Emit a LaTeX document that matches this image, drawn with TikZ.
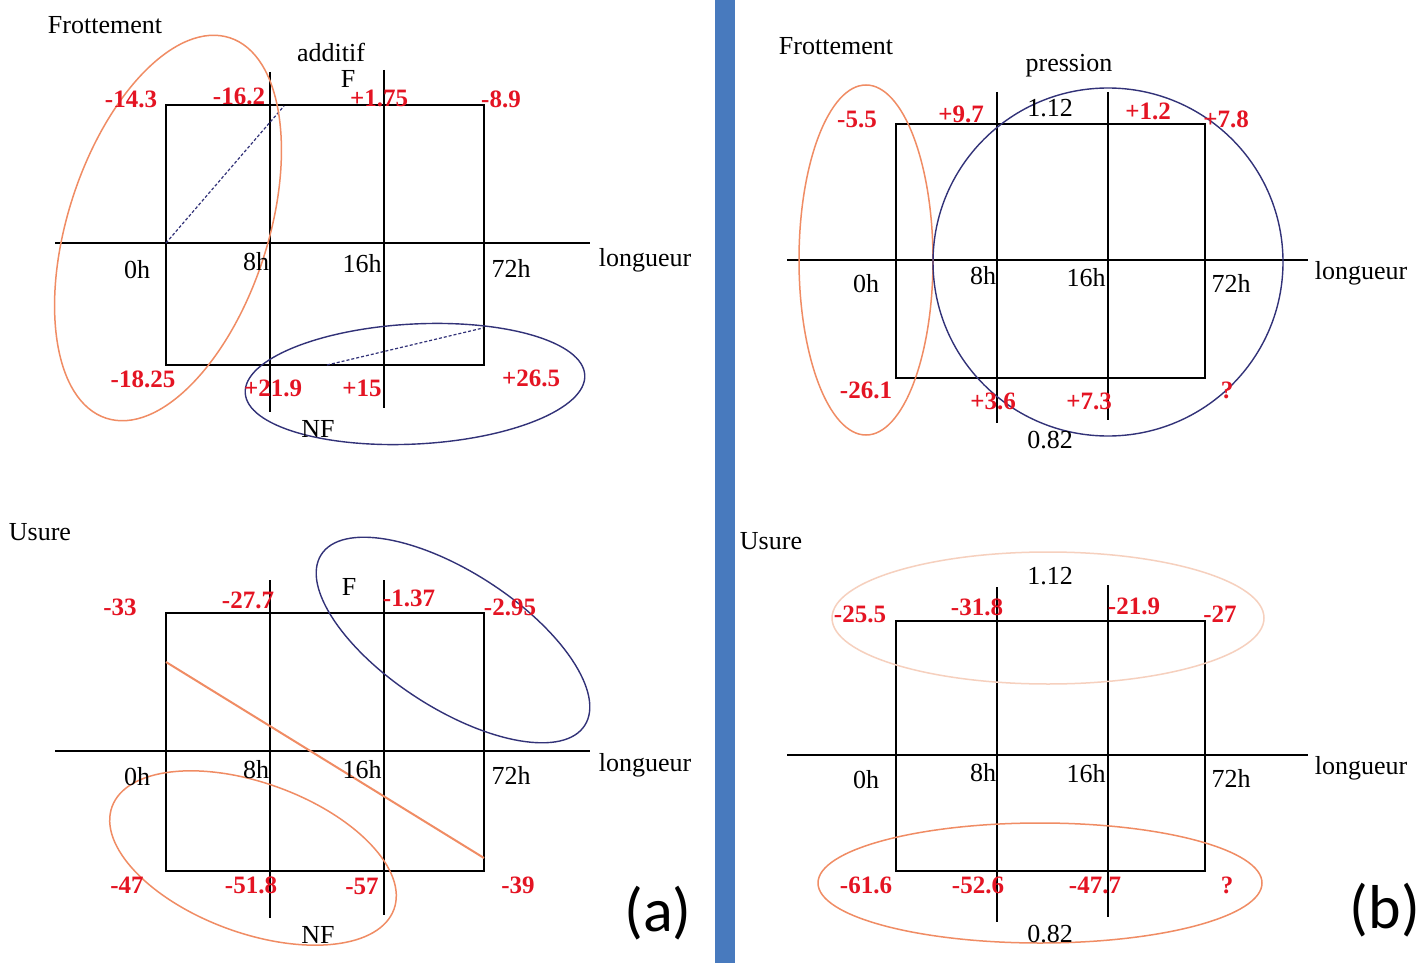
\documentclass[tikz,border=0pt]{standalone}
\usepackage{fontspec}
\setmainfont{Liberation Serif}
\newfontfamily\carlito{Carlito}
\definecolor{numred}{RGB}{228,20,35}
\definecolor{orng}{RGB}{240,140,100}
\definecolor{peach}{RGB}{246,208,190}
\definecolor{navy}{RGB}{50,50,120}
\definecolor{sepblue}{RGB}{72,122,190}
\begin{document}
\begin{tikzpicture}[x=0.5pt,y=-0.5pt,
  lbl/.style={font=\fontsize{13}{15}\selectfont, inner sep=0pt},
  val/.style={font=\fontsize{12.5}{14}\selectfont\bfseries, text=numred, inner sep=0pt},
  blk/.style={font=\fontsize{13}{15}\selectfont, inner sep=0pt},
  big/.style={font=\carlito\fontsize{31}{34}\selectfont, inner sep=0pt},
  gridline/.style={line width=1pt, black},
  orangeloop/.style={draw=orng, line width=0.75pt},
  peachloop/.style={draw=peach, line width=0.75pt},
  blueloop/.style={draw=navy, line width=0.7pt},
  dotline/.style={draw=navy, line width=0.6pt, dash pattern=on 1.5pt off 1pt}]
\useasboundingbox (0,0) rectangle (1424,963);
\fill[white] (0,0) rectangle (1424,963);
% separator
\fill[sepblue] (715,0) rectangle (735,963);

% ===== (a) top =====
\draw[gridline] (166,105) rectangle (484,365);
\draw[gridline] (55,243) -- (590,243);
\draw[gridline] (270,72) -- (270,412);
\draw[gridline] (384,70) -- (384,408);
\coordinate (a1s) at (166,243);
\coordinate (a1e) at (284,106);
\coordinate (a2s) at (327,365);
\coordinate (a2e) at (483,328);
\draw[dotline] (a1s) -- (a1e);
\draw[dotline] (a2s) -- (a2e);
\draw[orangeloop, rotate around={72:(168,228)}] (168,228) ellipse [x radius=200, y radius=100];
\draw[blueloop, rotate around={3:(415,384)}] (415,384) ellipse [x radius=170, y radius=60];
\node[lbl] (fa) at (105,25) {Frottement};
\node[lbl] (add) at (331,52) {additif};
\node[lbl] (fF) at (348,79) {F};
\node[val] (v1) at (131,99) {-14.3};
\node[val] (v2) at (239,96) {-16.2};
\node[val] (v3) at (379,98) {+1.75};
\node[val] (v4) at (501,99) {-8.9};
\node[lbl] (t1) at (137,270) {0h};
\node[lbl] (t2) at (256,262) {8h};
\node[lbl] (t3) at (362,264) {16h};
\node[lbl] (t4) at (511,268) {72h};
\node[lbl] (lg1) at (645,260) {longueur};
\node[val] (v5) at (143,379) {-18.25};
\node[val] (v6) at (273,388) {+21.9};
\node[val] (v7) at (362,388) {+15};
\node[val] (v8) at (531,378) {+26.5};
\node[lbl] (nf1) at (318,429) {NF};

% ===== (a) bottom =====
\draw[gridline] (166,613) rectangle (484,871);
\draw[gridline] (55,751) -- (590,751);
\draw[gridline] (270,580) -- (270,918);
\draw[gridline] (384,580) -- (384,915);
\coordinate (b1s) at (166,662);
\coordinate (b1e) at (484,858);
\draw[draw=orng, line width=1pt] (b1s) -- (b1e);
\draw[blueloop, rotate around={-33:(453,640)}] (453,640) ellipse [x radius=157, y radius=68];
\draw[orangeloop, rotate around={-20:(253,858)}] (253,858) ellipse [x radius=150, y radius=75];
\node[lbl] (us1) at (40,532) {Usure};
\node[val] (w1) at (120,607) {-33};
\node[val] (w2) at (248,600) {-27.7};
\node[lbl] (fF2) at (349,587) {F};
\node[val] (w3) at (409,598) {-1.37};
\node[val] (w4) at (510,607) {-2.95};
\node[lbl] (u1) at (137,777) {0h};
\node[lbl] (u2) at (256,770) {8h};
\node[lbl] (u3) at (362,770) {16h};
\node[lbl] (u4) at (511,775) {72h};
\node[lbl] (lg2) at (645,765) {longueur};
\node[val] (w5) at (127,885) {-47};
\node[val] (w6) at (251,885) {-51.8};
\node[val] (w7) at (362,886) {-57};
\node[val] (w8) at (518,885) {-39};
\node[lbl] (nf2) at (318,935) {NF};
\node[big] (capa) at (658,913) {(a)};

% ===== (b) top =====
\draw[gridline] (896,124) rectangle (1205,378);
\draw[gridline] (787,260) -- (1308,260);
\draw[gridline] (997,92) -- (997,423);
\draw[gridline] (1108,92) -- (1108,420);
\draw[orangeloop] (866,260) ellipse [x radius=67, y radius=175];
\draw[blueloop] (1108,262) ellipse [x radius=175, y radius=174];
\node[lbl] (fb) at (836,46) {Frottement};
\node[lbl] (pr) at (1069,66) {pression};
\node[val] (x1) at (857,119) {-5.5};
\node[val] (x2) at (961,114) {+9.7};
\node[blk] (p1) at (1050,108) {1.12};
\node[val] (x3) at (1148,111) {+1.2};
\node[val] (x4) at (1226,119) {+7.8};
\node[lbl] (s1) at (866,284) {0h};
\node[lbl] (s2) at (983,276) {8h};
\node[lbl] (s3) at (1086,278) {16h};
\node[lbl] (s4) at (1231,283) {72h};
\node[lbl] (lg3) at (1361,273) {longueur};
\node[val] (x5) at (866,390) {-26.1};
\node[val] (x6) at (993,401) {+3.6};
\node[val] (x7) at (1089,401) {+7.3};
\node[val] (x8) at (1227,390) {?};
\node[blk] (p2) at (1050,440) {0.82};

% ===== (b) bottom =====
\draw[gridline] (896,621) rectangle (1205,871);
\draw[gridline] (787,755) -- (1308,755);
\draw[gridline] (997,587) -- (997,922);
\draw[gridline] (1108,585) -- (1108,917);
\draw[peachloop] (1048,618) ellipse [x radius=216, y radius=66];
\draw[orangeloop] (1040,883) ellipse [x radius=222, y radius=60];
\node[lbl] (us2) at (771,541) {Usure};
\node[blk] (q1) at (1050,576) {1.12};
\node[val] (y1) at (860,614) {-25.5};
\node[val] (y2) at (977,607) {-31.8};
\node[val] (y3) at (1134,606) {-21.9};
\node[val] (y4) at (1220,614) {-27};
\node[lbl] (r1) at (866,780) {0h};
\node[lbl] (r2) at (983,773) {8h};
\node[lbl] (r3) at (1086,774) {16h};
\node[lbl] (r4) at (1231,778) {72h};
\node[lbl] (lg4) at (1361,768) {longueur};
\node[val] (y5) at (866,885) {-61.6};
\node[val] (y6) at (978,885) {-52.6};
\node[val] (y7) at (1095,885) {-47.7};
\node[val] (y8) at (1227,885) {?};
\node[blk] (q2) at (1050,934) {0.82};
\node[big] (capb) at (1385,910) {(b)};
\end{tikzpicture}
\end{document}
